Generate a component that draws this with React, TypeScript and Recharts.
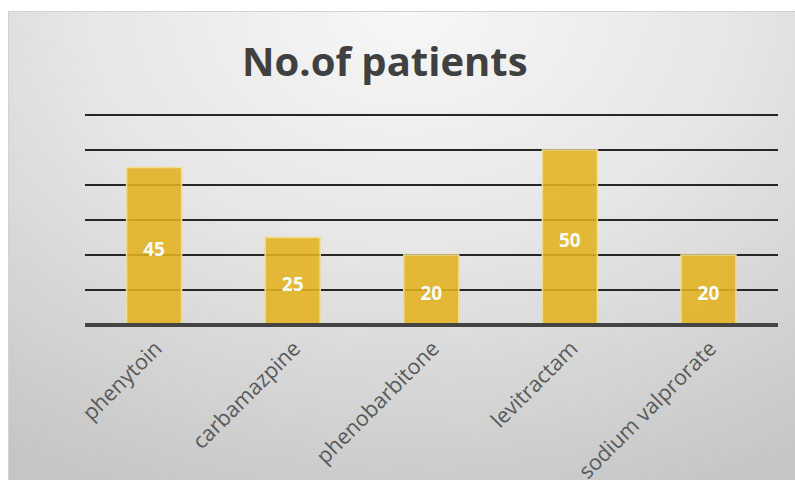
import React from "react";
import { BarChart, Bar, XAxis, YAxis, CartesianGrid, LabelList } from "recharts";

const drugs = ["phenytoin", "carbamazpine", "phenobarbitone", "levitractam", "sodium valprorate"];
const patients = [45, 25, 20, 50, 20];
const yTicks = [0, 10, 20, 30, 40, 50, 60];

const data = drugs.map((name, i) => ({ name, patients: patients[i] }));

const FONT = "'Open Sans', 'Noto Sans', sans-serif";

const DrugTick = (props: any) => {
  const { x, y, payload } = props;
  const ax = x + 9;
  const ay = y + 17;
  return (
    <text
      x={ax}
      y={ay}
      transform={`rotate(-45, ${ax}, ${ay})`}
      textAnchor="end"
      fill="#595959"
      fontSize={21.5}
      fontFamily={FONT}
    >
      {payload.value}
    </text>
  );
};

export default function App() {
  return (
    <div style={{ position: "fixed", left: 0, top: 0, width: 795, height: 480, background: "#ffffff", overflow: "hidden" }}>
      <div
        style={{
          position: "absolute",
          left: 8,
          top: 11,
          width: 800,
          height: 480,
          boxSizing: "border-box",
          borderTop: "1px solid #d2d2d2",
          borderLeft: "1px solid #d2d2d2",
          background: "radial-gradient(ellipse 90% 110% at 50% 0%, #f7f7f7 0%, #e6e6e6 45%, #c5c5c5 100%)",
        }}
      />
      <div
        style={{
          position: "absolute",
          left: 242,
          top: 35,
          fontFamily: FONT,
          fontWeight: 700,
          fontSize: 40,
          color: "#404040",
          whiteSpace: "nowrap",
          lineHeight: "52px",
        }}
      >
        No.of patients
      </div>
      <div style={{ position: "absolute", left: 0, top: 0 }}>
        <BarChart
          width={795}
          height={480}
          data={data}
          margin={{ top: 115, right: 17, left: 85, bottom: 0 }}
          barCategoryGap="30%"
        >
          <CartesianGrid horizontal vertical={false} stroke="#262626" strokeWidth={2} />
          <YAxis hide domain={[0, 60]} ticks={yTicks} />
          <XAxis
            dataKey="name"
            height={155}
            tickLine={false}
            axisLine={{ stroke: "#444444", strokeWidth: 4 }}
            tick={<DrugTick />}
            interval={0}
          />
          <Bar
            dataKey="patients"
            fill="#e2b21f"
            fillOpacity={0.88}
            stroke="#f2dc90"
            strokeWidth={1.5}
            isAnimationActive={false}
          >
            <LabelList
              dataKey="patients"
              position="center"
              fill="#ffffff"
              fontSize={19}
              fontWeight={700}
              fontFamily={FONT}
              dy={3}
            />
          </Bar>
        </BarChart>
      </div>
    </div>
  );
}
